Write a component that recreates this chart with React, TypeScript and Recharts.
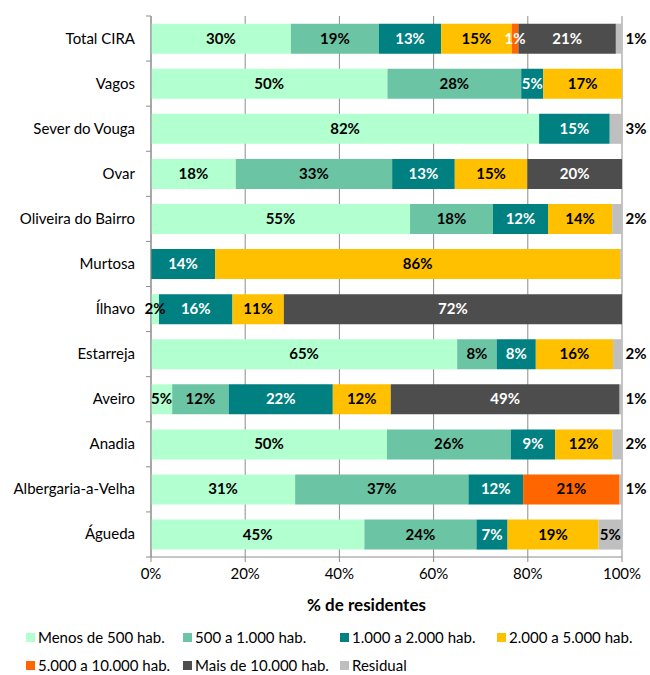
import React from 'react';
import { BarChart, Bar, XAxis, YAxis, CartesianGrid, Legend, LabelList } from 'recharts';

const categories = [
  'Total CIRA', 'Vagos', 'Sever do Vouga', 'Ovar', 'Oliveira do Bairro', 'Murtosa',
  'Ílhavo', 'Estarreja', 'Aveiro', 'Anadia', 'Albergaria-a-Velha', 'Águeda',
];

const menos500 = [29.7, 50.2, 82.4, 18.0, 55.0, 0, 1.7, 65.0, 4.5, 50.1, 30.6, 45.3];
const de500a1000 = [18.7, 28.4, 0, 33.2, 17.6, 0, 0, 8.4, 12.0, 26.3, 36.8, 23.8];
const de1000a2000 = [13.2, 4.7, 15.0, 13.3, 11.7, 13.6, 15.6, 8.3, 22.1, 9.4, 11.6, 6.6];
const de2000a5000 = [15.0, 16.7, 0, 15.4, 13.6, 86.0, 10.9, 16.4, 12.3, 12.1, 0, 19.3];
const de5000a10000 = [1.4, 0, 0, 0, 0, 0, 0, 0, 0, 0, 20.5, 0];
const mais10000 = [20.7, 0, 0, 20.1, 0, 0, 71.8, 0, 48.6, 0, 0, 0];
const residual = [1.3, 0, 2.6, 0, 2.1, 0.4, 0, 1.9, 0.5, 2.1, 0.5, 5.0];

const xTicks = [0, 20, 40, 60, 80, 100];

const SERIES = [
  { key: 'menos500', name: 'Menos de 500 hab.', color: '#B2FFD0', text: '#000', values: menos500 },
  { key: 'de500a1000', name: '500 a 1.000 hab.', color: '#6BC5A5', text: '#000', values: de500a1000 },
  { key: 'de1000a2000', name: '1.000 a 2.000 hab.', color: '#008080', text: '#fff', values: de1000a2000 },
  { key: 'de2000a5000', name: '2.000 a 5.000 hab.', color: '#FFC000', text: '#000', values: de2000a5000 },
  { key: 'de5000a10000', name: '5.000 a 10.000 hab.', color: '#FF6600', text: '#000', values: de5000a10000 },
  { key: 'mais10000', name: 'Mais de 10.000 hab.', color: '#4D4D4D', text: '#fff', values: mais10000 },
  { key: 'residual', name: 'Residual', color: '#BFBFBF', text: '#000', values: residual },
];

const data = categories.map((name, i) => {
  const row: any = { name };
  SERIES.forEach(s => { row[s.key] = s.values[i]; });
  return row;
});

const FONT = 'Lato, "Open Sans", sans-serif';
const AXIS_GRAY = '#8C8C8C';
const WIDTH = 650;
const HEIGHT = 675;
const MARGIN = { top: 16, right: 28, bottom: 58, left: 0 };
const X_AXIS_HEIGHT = 60;
const Y_TICK_MARGIN = 16;
const PLOT_HEIGHT = HEIGHT - MARGIN.top - MARGIN.bottom - X_AXIS_HEIGHT;

const CategoryTick = (props: any) => {
  const { x, y, payload, index } = props;
  const half = PLOT_HEIGHT / categories.length / 2;
  const axisX = x + Y_TICK_MARGIN;
  return (
    <g>
      <text x={x} y={y} dy={5} textAnchor="end" fontSize={15} fontFamily={FONT} fill="#000">
        {payload.value}
      </text>
      <line x1={axisX - 5} x2={axisX} y1={y - half} y2={y - half} stroke={AXIS_GRAY} />
      {index === categories.length - 1 && (
        <line x1={axisX - 5} x2={axisX} y1={y + half} y2={y + half} stroke={AXIS_GRAY} />
      )}
    </g>
  );
};

const makeLabel = (textColor: string, outsideWhenNarrow: boolean) => (props: any) => {
  const vb = props.viewBox ?? props;
  const { x, y, width, height } = vb;
  const value = Number(props.value);
  if (!value || value < 0.5) return null;
  const narrow = width < 20;
  const cx = outsideWhenNarrow && narrow ? x + width + 14 : x + width / 2;
  let fill = outsideWhenNarrow && narrow ? '#000' : textColor;
  if (!outsideWhenNarrow && width < 10 && textColor === '#000' && value < 1.5 && x > 400) fill = '#fff';
  return (
    <text
      x={cx}
      y={y + height / 2}
      dy={5}
      textAnchor="middle"
      fontSize={15}
      fontWeight="bold"
      fontFamily={FONT}
      fill={fill}
    >
      {`${Math.round(value)}%`}
    </text>
  );
};

const LegendContent = (props: any) => {
  const items = props.payload ?? [];
  const ordered = SERIES.map(s => items.find((it: any) => it.dataKey === s.key || it.value === s.name) ?? { value: s.name, color: s.color });
  return (
    <div style={{ display: 'grid', gridTemplateColumns: 'repeat(4, 157px)', paddingLeft: 26 }}>
      {ordered.map((it: any) => (
        <div key={it.value} style={{ height: 28, display: 'flex', alignItems: 'center', fontSize: 15, fontFamily: FONT, color: '#000', whiteSpace: 'nowrap' }}>
          <span style={{ width: 9, height: 9, background: it.color, marginRight: 3, display: 'inline-block' }} />
          {it.value}
        </div>
      ))}
    </div>
  );
};

export default function App() {
  return (
    <div style={{ position: 'absolute', left: 0, top: 0, width: WIDTH, height: HEIGHT, background: '#fff' }}>
      <BarChart
        width={WIDTH}
        height={HEIGHT}
        data={data}
        layout="vertical"
        margin={MARGIN}
        barCategoryGap="17%"
      >
        <CartesianGrid horizontal={false} stroke={AXIS_GRAY} />
        <XAxis
          type="number"
          domain={[0, 100]}
          ticks={xTicks}
          tickFormatter={(v) => `${v}%`}
          height={X_AXIS_HEIGHT}
          stroke={AXIS_GRAY}
          tickSize={5}
          tickMargin={6}
          tick={{ fontSize: 15, fill: '#000', fontFamily: FONT }}
          label={{
            value: '% de residentes',
            position: 'insideBottom',
            offset: 6,
            dx: -20,
            style: { fontSize: 17, fontWeight: 'bold', fill: '#000', fontFamily: FONT },
          }}
        />
        <YAxis
          type="category"
          dataKey="name"
          width={151}
          tickSize={0}
          tickMargin={Y_TICK_MARGIN}
          tickLine={false}
          axisLine={{ stroke: AXIS_GRAY }}
          tick={<CategoryTick />}
          interval={0}
        />
        <Legend
          layout="horizontal"
          verticalAlign="middle"
          align="center"
          wrapperStyle={{ top: 623, left: 0, width: WIDTH }}
          content={<LegendContent />}
        />
        {SERIES.map(s => (
          <Bar key={s.key} dataKey={s.key} name={s.name} stackId="a" fill={s.color} isAnimationActive={false}>
            <LabelList dataKey={s.key} content={makeLabel(s.text, s.key === 'residual')} />
          </Bar>
        ))}
      </BarChart>
    </div>
  );
}
